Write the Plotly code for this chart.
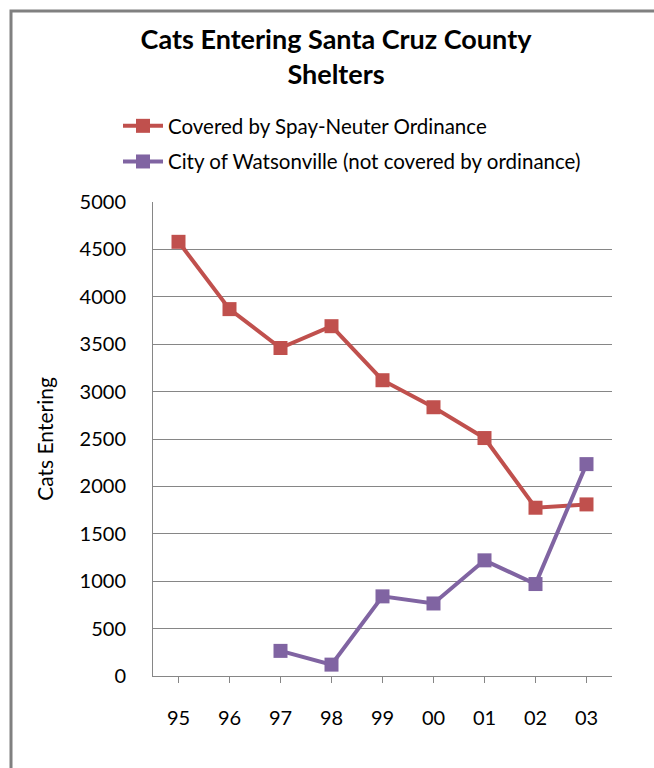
import plotly.graph_objects as go

years = ["95", "96", "97", "98", "99", "00", "01", "02", "03"]
covered = [4580, 3870, 3460, 3690, 3120, 2835, 2510, 1775, 1810]
watsonville = [None, None, 265, 120, 840, 765, 1220, 970, 2235]

series_names = ["Covered by Spay-Neuter Ordinance",
                "City of Watsonville (not covered by ordinance)"]
title_text = "Cats Entering Santa Cruz County<br>Shelters"
y_title = "Cats Entering"

RED = "#C0504D"
PURPLE = "#8064A2"
GRID = "#868686"
FONT = "Lato"

W, H = 654, 768
L, R, T, B = 153, 42, 202, 92
pw, ph = W - L - R, H - T - B

def px_x(x):
    return (x - L) / pw

def px_y(y):
    return (H - B - y) / ph

fig = go.Figure()
fig.add_trace(go.Scatter(
    x=years, y=covered, name=series_names[0], mode="lines+markers", legendgroup="a",
    line=dict(color=RED, width=4), marker=dict(symbol="square", size=14, color=RED),
))
fig.add_trace(go.Scatter(
    x=years, y=watsonville, name=series_names[1], mode="lines+markers", legendgroup="b",
    line=dict(color=PURPLE, width=4), marker=dict(symbol="square", size=14, color=PURPLE),
))

fig.update_layout(
    width=W, height=H,
    margin=dict(l=L, r=R, t=T, b=B),
    paper_bgcolor="white", plot_bgcolor="white",
    font=dict(family=FONT, color="#000000", size=20),
    title=dict(text="<b>" + title_text + "</b>", x=px_x(336), xref="paper", xanchor="center",
               y=1 - 49 / H, yanchor="middle", yref="container",
               font=dict(family=FONT, size=27, color="#000000")),
    legend=dict(x=px_x(118), y=px_y(106), xanchor="left", yanchor="top",
                xref="paper", yref="paper", font=dict(family=FONT, size=20.5),
                bgcolor="rgba(0,0,0,0)", tracegroupgap=6, itemwidth=40),
    showlegend=True,
    xaxis=dict(type="category", range=[-0.5, 8.5], showgrid=False,
               showline=True, linecolor=GRID, linewidth=1,
               ticks="outside", ticklen=6, tickcolor=GRID, tickwidth=1,
               ticklabelstandoff=18, tickfont=dict(size=20), fixedrange=True),
    yaxis=dict(range=[0, 5000], dtick=500, showgrid=True, gridcolor=GRID, gridwidth=1,
               showline=True, linecolor=GRID, linewidth=1, zeroline=False,
               ticks="", ticklabelstandoff=22, tickfont=dict(size=20),
               title=dict(text=y_title, standoff=20, font=dict(size=21))),
    shapes=[dict(type="rect", xref="paper", yref="paper",
                 x0=px_x(11), x1=px_x(670), y0=px_y(790), y1=px_y(11),
                 line=dict(color="#808080", width=3), fillcolor="rgba(0,0,0,0)",
                 layer="below")],
)

fig.write_html("out.html")
